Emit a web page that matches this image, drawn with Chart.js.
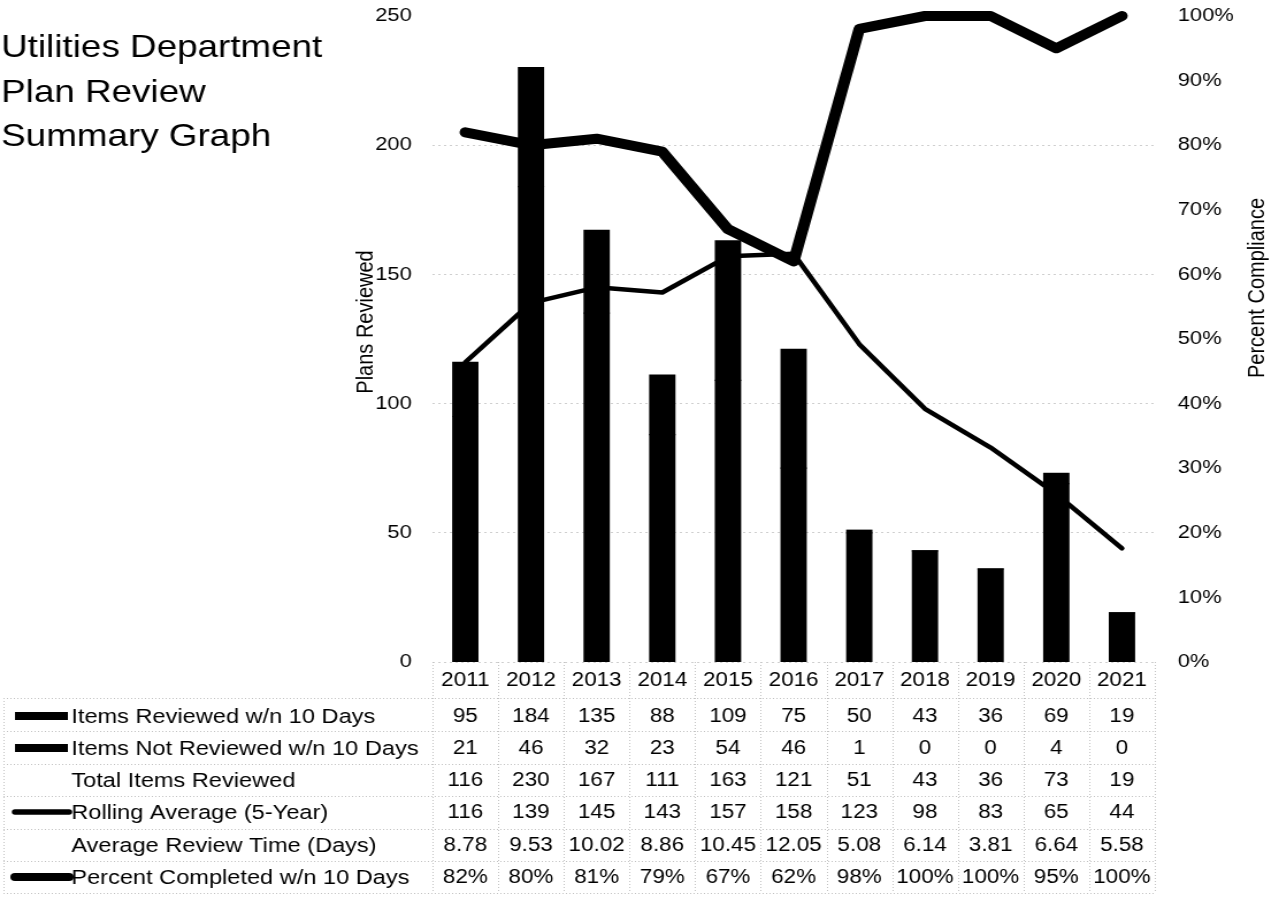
<!DOCTYPE html>
<html>
<head>
<meta charset="utf-8">
<title>Utilities Department Plan Review Summary Graph</title>
<script src="https://cdn.jsdelivr.net/npm/chart.js@4.4.1/dist/chart.umd.min.js"></script>
<style>
  html, body { margin: 0; padding: 0; background: #fff; overflow: hidden; }
  canvas { display: block; }
</style>
</head>
<body>
<!-- drawn at 1112 px wide and widened to the page -->
<canvas id="chart" width="1112" height="907" style="width:1279px;height:907px"></canvas>
<script>
// ---- data ----
const years = ['2011', '2012', '2013', '2014', '2015', '2016', '2017', '2018', '2019', '2020', '2021'];
const itemsReviewed = [95, 184, 135, 88, 109, 75, 50, 43, 36, 69, 19];
const itemsNotReviewed = [21, 46, 32, 23, 54, 46, 1, 0, 0, 4, 0];
const totalReviewed = [116, 230, 167, 111, 163, 121, 51, 43, 36, 73, 19];
const rollingAverage = [116, 139, 145, 143, 157, 158, 123, 98, 83, 65, 44];
const avgReviewTime = [8.78, 9.53, 10.02, 8.86, 10.45, 12.05, 5.08, 6.14, 3.81, 6.64, 5.58];
const percentCompleted = [82, 80, 81, 79, 67, 62, 98, 100, 100, 95, 100];

const leftTicks = [0, 50, 100, 150, 200, 250];
const rightTicks = [0, 10, 20, 30, 40, 50, 60, 70, 80, 90, 100];

const titleLines = ['Utilities Department', 'Plan Review', 'Summary Graph'];
const rowLabels = [
  'Items Reviewed w/n 10 Days',
  'Items Not Reviewed w/n 10 Days',
  'Total Items Reviewed',
  'Rolling Average (5-Year)',
  'Average Review Time (Days)',
  'Percent Completed w/n 10 Days'
];

// ---- styling ----
const FONT = '"Liberation Sans", Arial, Helvetica, sans-serif';
const INK = '#000000';
const GRID = '#cfcfcf';

// text of each table row, one cell per year
const rowCells = [
  itemsReviewed.map(String),
  itemsNotReviewed.map(String),
  totalReviewed.map(String),
  rollingAverage.map(String),
  avgReviewTime.map(v => v.toFixed(2)),
  percentCompleted.map(v => v + '%')
];
// legend key kind for each row
const rowKeys = ['bar', 'bar', null, 'thin', null, 'thick'];

// keep the vertical axes from reserving extra room above and below the plot
function fixVerticalAxis(width) {
  return scale => {
    scale.width = width;
    scale.paddingTop = 0;
    scale.paddingBottom = 0;
  };
}

// title, axis titles and the data table under the plot
const tablePlugin = {
  id: 'dataTable',
  afterDraw(chart) {
    const { ctx, chartArea, scales } = chart;
    const x = scales.x;
    ctx.save();
    ctx.fillStyle = INK;

    // title block
    ctx.font = `32px ${FONT}`;
    ctx.textAlign = 'left';
    ctx.textBaseline = 'alphabetic';
    titleLines.forEach((t, i) => ctx.fillText(t, 1, 57 + i * 44.5));

    // axis titles
    ctx.font = `20px ${FONT}`;
    ctx.textAlign = 'center';
    ctx.textBaseline = 'middle';
    ctx.save();
    ctx.translate(318, 322);
    ctx.rotate(-Math.PI / 2);
    ctx.fillText('Plans Reviewed', 0, 0);
    ctx.restore();
    ctx.save();
    ctx.translate(1093, 288);
    ctx.rotate(-Math.PI / 2);
    ctx.fillText('Percent Compliance', 0, 0);
    ctx.restore();

    // table grid
    const step = x.getPixelForValue(1) - x.getPixelForValue(0);
    const rowY = [716, 748, 780, 812, 845, 877];
    const lineY = [698, 731, 764, 796, 829, 861, 893];
    const tableLeft = 3;
    ctx.strokeStyle = '#c2c2c2';
    ctx.lineWidth = 1;
    ctx.setLineDash([1, 2]);
    lineY.forEach(y => {
      ctx.beginPath();
      ctx.moveTo(tableLeft, y + 0.5);
      ctx.lineTo(chartArea.right, y + 0.5);
      ctx.stroke();
    });
    for (let i = 0; i <= years.length; i++) {
      const bx = Math.round(chartArea.left + i * step) + 0.5;
      ctx.beginPath();
      ctx.moveTo(bx, chartArea.bottom);
      ctx.lineTo(bx, lineY[lineY.length - 1]);
      ctx.stroke();
    }
    ctx.beginPath();
    ctx.moveTo(tableLeft + 0.5, lineY[0]);
    ctx.lineTo(tableLeft + 0.5, lineY[lineY.length - 1]);
    ctx.stroke();
    ctx.setLineDash([]);

    // row labels with legend keys
    ctx.textBaseline = 'middle';
    rowLabels.forEach((label, r) => {
      const y = rowY[r];
      const key = rowKeys[r];
      if (key === 'bar') {
        ctx.fillRect(13, y - 4, 46, 8);
      } else if (key) {
        ctx.strokeStyle = INK;
        ctx.lineCap = 'round';
        ctx.lineWidth = key === 'thick' ? 8 : 5.5;
        ctx.beginPath();
        ctx.moveTo(13, y);
        ctx.lineTo(60, y);
        ctx.stroke();
      }
      ctx.textAlign = 'left';
      ctx.font = `20.5px ${FONT}`;
      ctx.fillText(label, 62, y + 1);

      ctx.textAlign = 'center';
      ctx.font = `19.5px ${FONT}`;
      rowCells[r].forEach((cell, i) => {
        ctx.fillText(cell, x.getPixelForValue(i), y + 1);
      });
    });
    ctx.restore();
  }
};

new Chart(document.getElementById('chart'), {
  data: {
    labels: years,
    datasets: [
      {
        type: 'line',
        label: 'Percent Completed w/n 10 Days',
        data: percentCompleted,
        yAxisID: 'y1',
        borderColor: INK,
        borderWidth: 10,
        borderCapStyle: 'round',
        borderJoinStyle: 'round',
        pointRadius: 0,
        tension: 0,
        clip: false
      },
      {
        type: 'line',
        label: 'Rolling Average (5-Year)',
        data: rollingAverage,
        yAxisID: 'y',
        stack: 'rolling',
        borderColor: INK,
        borderWidth: 4.5,
        borderCapStyle: 'round',
        borderJoinStyle: 'round',
        pointRadius: 0,
        tension: 0,
        clip: false
      },
      {
        type: 'bar',
        label: 'Items Reviewed w/n 10 Days',
        data: itemsReviewed,
        yAxisID: 'y',
        stack: 'items',
        backgroundColor: INK,
        borderWidth: 0,
        inflateAmount: 0.6,
        barPercentage: 0.38,
        categoryPercentage: 1
      },
      {
        type: 'bar',
        label: 'Items Not Reviewed w/n 10 Days',
        data: itemsNotReviewed,
        yAxisID: 'y',
        stack: 'items',
        backgroundColor: INK,
        borderWidth: 0,
        inflateAmount: 0.6,
        barPercentage: 0.38,
        categoryPercentage: 1
      }
    ]
  },
  options: {
    responsive: false,
    animation: false,
    devicePixelRatio: 1,
    layout: { padding: { left: 0, right: 0, top: 16, bottom: 0 } },
    plugins: {
      legend: { display: false },
      tooltip: { enabled: false },
      title: { display: false }
    },
    scales: {
      x: {
        stacked: true,
        offset: true,
        grid: { display: false, drawTicks: false },
        border: { display: false },
        ticks: {
          color: INK,
          padding: 7,
          maxRotation: 0,
          font: { family: FONT, size: 19.5 }
        },
        afterFit(scale) { scale.height = 245; }
      },
      y: {
        position: 'left',
        stacked: true,
        min: leftTicks[0],
        max: leftTicks[leftTicks.length - 1],
        afterBuildTicks(scale) { scale.ticks = leftTicks.map(v => ({ value: v })); },
        grid: {
          drawTicks: false,
          lineWidth: 1,
          color: c => (c.tick && c.tick.value === 250 ? 'rgba(0,0,0,0)' : GRID)
        },
        border: { display: false, dash: [2, 3] },
        ticks: {
          color: INK,
          padding: 18,
          font: { family: FONT, size: 19 }
        },
        afterFit: fixVerticalAxis(376)
      },
      y1: {
        position: 'right',
        min: 0,
        max: 100,
        afterBuildTicks(scale) { scale.ticks = rightTicks.map(v => ({ value: v })); },
        grid: { display: false, drawOnChartArea: false, drawTicks: false },
        border: { display: false },
        ticks: {
          color: INK,
          padding: 20,
          font: { family: FONT, size: 19 },
          callback: v => v + '%'
        },
        afterFit: fixVerticalAxis(108)
      }
    }
  },
  plugins: [tablePlugin]
});
</script>
</body>
</html>
